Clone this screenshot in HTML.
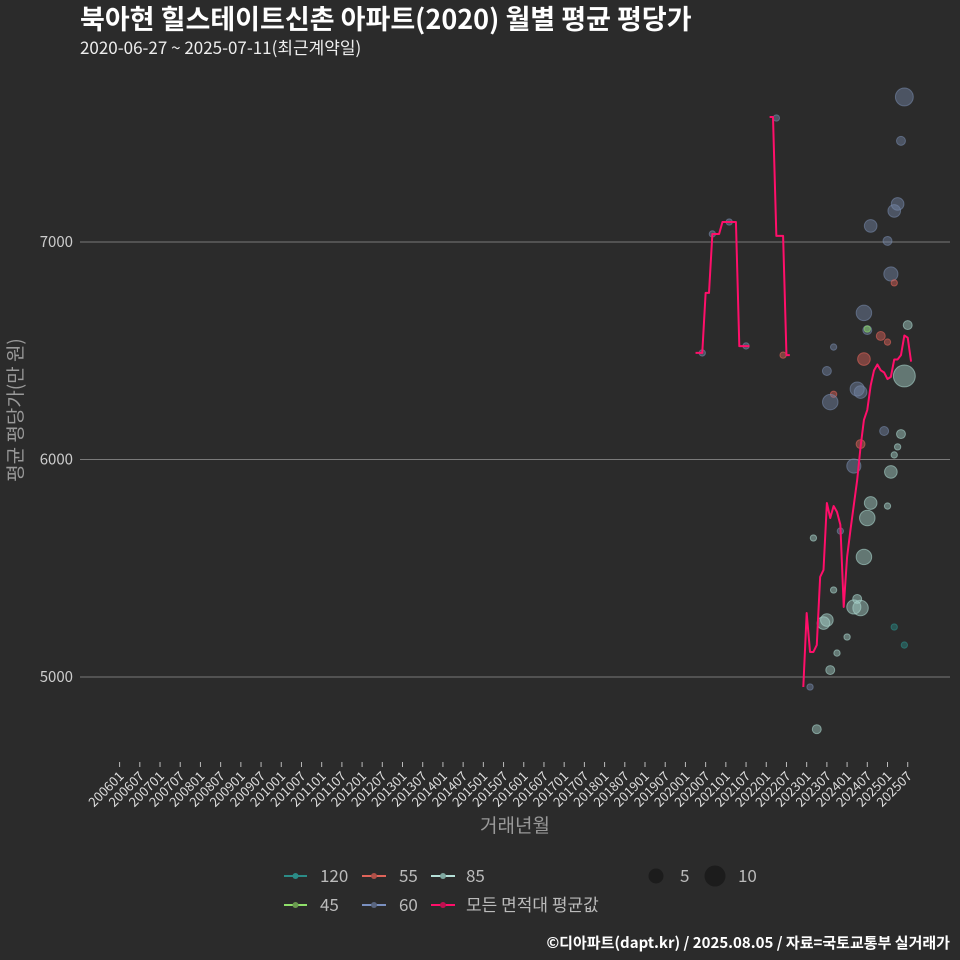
<!DOCTYPE html>
<html><head><meta charset="utf-8"><style>
html,body{margin:0;padding:0;background:#2b2b2b;}
svg{display:block;font-family:"Noto Sans CJK KR","Liberation Sans",sans-serif;}
</style></head><body>
<svg id="chart" width="960" height="960" viewBox="0 0 960 960" xmlns="http://www.w3.org/2000/svg">
<rect x="0" y="0" width="960" height="960" fill="#2b2b2b"/>
<text x="80" y="29" fill="#ffffff" font-size="27" font-weight="bold">북아현 힐스테이트신촌 아파트(2020) 월별 평균 평당가</text>
<text x="80" y="54" fill="#eeeeee" font-size="17">2020-06-27 ~ 2025-07-11(최근계약일)</text>
<g id="grid"></g>
<g id="yticks"></g>
<g id="xticks"></g>
<g id="points"></g>
<g id="lines"></g>
<text transform="translate(22,410) rotate(-90)" text-anchor="middle" fill="#999999" font-size="19">평균 평당가(만 원)</text>
<text x="515" y="832" text-anchor="middle" fill="#999999" font-size="19">거래년월</text>
<g font-size="17" fill="#bbbbbb">
<g><line x1="284" y1="876" x2="307" y2="876" stroke="#2b8c87" stroke-width="2"/><circle cx="295.5" cy="876" r="3" fill="#2b8c87"/><text x="320" y="882">120</text></g>
<g><line x1="362" y1="876" x2="386" y2="876" stroke="#e0645a" stroke-width="2"/><circle cx="374" cy="876" r="3" fill="#b05048"/><text x="399" y="882">55</text></g>
<g><line x1="431" y1="876" x2="455" y2="876" stroke="#b5e0d8" stroke-width="2"/><circle cx="443" cy="876" r="3" fill="#7fa8a0"/><text x="466" y="882">85</text></g>
<g><line x1="284" y1="905" x2="307" y2="905" stroke="#8fe06a" stroke-width="2"/><circle cx="295.5" cy="905" r="3" fill="#6a9a50"/><text x="320" y="911">45</text></g>
<g><line x1="362" y1="905" x2="386" y2="905" stroke="#7a90c0" stroke-width="2"/><circle cx="374" cy="905" r="3" fill="#5a6680"/><text x="399" y="911">60</text></g>
<g><line x1="431" y1="905" x2="455" y2="905" stroke="#ff0f6a" stroke-width="2"/><circle cx="443" cy="905" r="3" fill="#c01050"/><text x="466" y="911">모든 면적대 평균값</text></g>
<g><circle cx="656" cy="876" r="7.5" fill="#1c1c1c"/><text x="680" y="882">5</text></g>
<g><circle cx="715" cy="876" r="10.5" fill="#1c1c1c"/><text x="738" y="882">10</text></g>
</g>
<text x="950" y="948" text-anchor="end" fill="#ffffff" font-size="15" font-weight="bold">©디아파트(dapt.kr) / 2025.08.05 / 자료=국토교통부 실거래가</text>
</svg>
<script>
const yTicks = [5000, 6000, 7000];
const xTickLabels = [];
for (let y = 2006; y <= 2025; y++) { xTickLabels.push(y + "01"); xTickLabels.push(y + "07"); }
// average line segments: month index from 2006-01, values
const seg1Months = [171,173,174,175,176,178,179,183,184,187];
const seg1Values = [6490,6490,6766,6766,7037,7037,7092,7092,6521,6521];
const seg2Months = [193,194,195,197,198,199];
const seg2Values = [7575,7575,7028,7028,6480,6480];
const seg3Months = [203,204,205,206,207,208,209,210,211,212,213,214,215,216,217,219,220,221,222,223,224,225,226,227,228,229,230,231,232,233,234,235];
const seg3Values = [4954,5294,5115,5115,5147,5460,5492,5800,5731,5786,5759,5700,5322,5552,5676,5906,6058,6182,6228,6340,6410,6437,6410,6400,6370,6380,6460,6460,6480,6570,6560,6450];
// scatter points
const ptMonths = [173,176,181,186,195,197,233,232,231,230,223,228,229,230,221,234,222,222,226,228,212,221,233,210,219,220,212,211,220,227,232,231,230,218,229,228,223,222,214,206,221,212,219,210,209,218,220,230,216,213,233,211,205,207];
const ptValues = [6490,7037,7092,6522,7570,6480,7667,7465,7175,7143,7074,7005,6853,6812,6674,6618,6595,6600,6568,6540,6517,6462,6384,6407,6324,6310,6300,6264,6071,6131,6117,6058,6021,5970,5943,5786,5800,5731,5671,5639,5552,5400,5359,5262,5248,5322,5317,5230,5184,5110,5147,5032,4954,4760];
const ptTypes = ["60","60","60","60","60","55","60","60","60","60","60","60","60","55","60","85","60","45","55","55","60","55","85","60","60","60","55","60","55","60","85","85","85","60","85","85","85","85","60","85","85","85","85","85","85","85","85","120","85","85","120","85","60","85"];
const ptCounts = [1,1,1,1,1,1,8,2,4,4,4,2,5,1,6,2,2,1,2,1,1,4,12,2,5,4,1,6,2,2,2,1,1,5,4,1,4,6,1,1,6,1,2,4,4,5,6,1,1,1,1,2,1,2];

const NS = "http://www.w3.org/2000/svg";
const xScale = m => 119.6 + m * 3.368;
const yScale = v => 677 - (v - 5000) * 0.2175;
const rScale = n => 3.16 * Math.sqrt(n);
const colors = {"120":"#2b8c87","45":"#8fe06a","55":"#e0645a","60":"#7587a8","85":"#a9d4cc"};
function mk(tag, attrs, parent){ const e=document.createElementNS(NS,tag); for(const k in attrs) e.setAttribute(k,attrs[k]); parent.appendChild(e); return e; }

const grid = document.getElementById('grid'), yt = document.getElementById('yticks');
yTicks.forEach(v => {
  const l = mk('line',{x1:80,x2:950,y1:yScale(v),y2:yScale(v),stroke:'#7a7a7a','stroke-width':1},grid);
  
  
  const t = mk('text',{x:73,y:yScale(v)+5,'text-anchor':'end',fill:'#cccccc','font-size':15},yt);
  
  
  t.textContent = v;
});
const xt = document.getElementById('xticks');
xTickLabels.forEach((lab,i) => {
  const x = xScale(i*6);
  const tk = mk('line',{x1:x,x2:x,y1:762,y2:767,stroke:'#bbbbbb','stroke-width':1},xt);
  
  
  const t = mk('text',{transform:`translate(${x+5},${777}) rotate(-45)`,'text-anchor':'end',fill:'#dddddd','font-size':13},xt);
  
  
  t.textContent = lab;
});
const pg = document.getElementById('points');
ptMonths.forEach((m,i) => {
  const c = colors[ptTypes[i]];
  const p = mk('circle',{cx:xScale(m),cy:yScale(ptValues[i]),r:rScale(ptCounts[i]),fill:c,'fill-opacity':0.45,stroke:c,'stroke-opacity':0.6,'stroke-width':1},pg);
  
  
});
const lg = document.getElementById('lines');
[[seg1Months,seg1Values],[seg2Months,seg2Values],[seg3Months,seg3Values]].forEach((s,k) => {
  const pts = s[0].map((m,i)=>xScale(m)+','+yScale(s[1][i])).join(' ');
  const pl = mk('polyline',{points:pts,fill:'none',stroke:'#ff0f6a','stroke-width':2,'stroke-linejoin':'round'},lg);
  
  
});
</script>
</body></html>
